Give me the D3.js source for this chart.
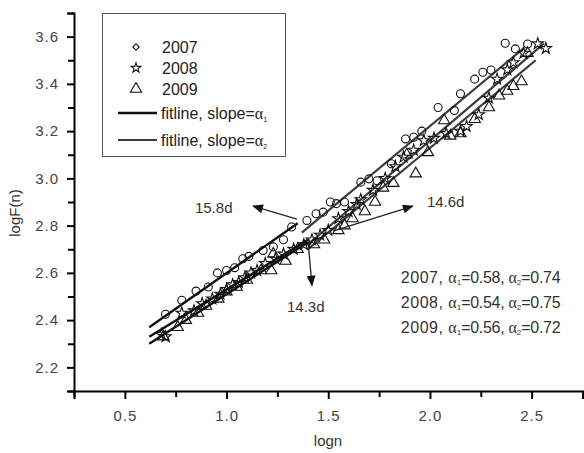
<!DOCTYPE html>
<html>
<head>
<meta charset="utf-8">
<script src="https://cdn.jsdelivr.net/npm/d3@7"></script>
<style>
  body { margin: 0; background: #fff; }
  svg text { font-family: "Liberation Sans", Arial, sans-serif; }
</style>
</head>
<body>
<svg id="chart" width="584" height="453"></svg>
<script>
// ---- data ----
var years = ['2007', '2008', '2009'];

var pts2007 = [
  [0.70, 2.425], [0.78, 2.484], [0.85, 2.523], [0.91, 2.54], [0.955, 2.60], [1.00, 2.61],
  [1.04, 2.622], [1.08, 2.66], [1.11, 2.67], [1.18, 2.695], [1.23, 2.71], [1.28, 2.74],
  [1.32, 2.794], [1.395, 2.822], [1.44, 2.85], [1.475, 2.857], [1.51, 2.90], [1.54, 2.893],
  [1.58, 2.90], [1.66, 2.984], [1.70, 2.998], [1.74, 2.99], [1.81, 3.062], [1.88, 3.167],
  [1.92, 3.174], [1.96, 3.20], [2.04, 3.30], [2.12, 3.287], [2.15, 3.358], [2.22, 3.42],
  [2.26, 3.449], [2.30, 3.459], [2.37, 3.572], [2.42, 3.548], [2.48, 3.569]
];

var pts2008 = [
  [0.68, 2.34], [0.70, 2.33], [0.78, 2.43], [0.84, 2.44], [0.88, 2.47], [0.93, 2.49],
  [0.97, 2.51], [1.00, 2.53], [1.03, 2.55], [1.06, 2.56], [1.09, 2.58], [1.12, 2.60],
  [1.15, 2.61], [1.19, 2.64], [1.24, 2.66], [1.28, 2.68], [1.33, 2.70], [1.38, 2.72],
  [1.42, 2.74], [1.46, 2.76], [1.50, 2.78], [1.55, 2.83], [1.60, 2.86], [1.64, 2.89],
  [1.66, 2.91], [1.72, 2.95], [1.78, 3.00], [1.83, 3.05], [1.87, 3.09], [1.92, 3.12],
  [1.97, 3.16], [2.02, 3.17], [2.08, 3.19], [2.15, 3.20], [2.18, 3.22], [2.24, 3.27],
  [2.29, 3.34], [2.33, 3.42], [2.38, 3.46], [2.41, 3.49], [2.46, 3.53], [2.53, 3.57],
  [2.57, 3.55]
];

var pts2009 = [
  [0.69, 2.33], [0.76, 2.37], [0.80, 2.40], [0.86, 2.43], [0.90, 2.46], [0.96, 2.49],
  [1.00, 2.52], [1.05, 2.54], [1.10, 2.57], [1.17, 2.61], [1.22, 2.61], [1.23, 2.68],
  [1.29, 2.65], [1.35, 2.70], [1.43, 2.72], [1.48, 2.74], [1.55, 2.78], [1.58, 2.80],
  [1.62, 2.83], [1.68, 2.86], [1.73, 2.90], [1.77, 2.96], [1.82, 2.98], [1.886, 3.10],
  [1.93, 3.02], [1.99, 3.11], [2.07, 3.245], [2.10, 3.18], [2.15, 3.19], [2.22, 3.25],
  [2.29, 3.30], [2.34, 3.35], [2.38, 3.37], [2.41, 3.39], [2.45, 3.41], [2.48, 3.53]
];

// fit lines: [x0, y0, x1, y1]
var fitAlpha1 = [
  [0.62, 2.37, 1.35, 2.81],
  [0.62, 2.33, 1.40, 2.74],
  [0.62, 2.30, 1.40, 2.73]
];
var fitAlpha2 = [
  [1.37, 2.77, 2.46, 3.55],
  [1.40, 2.72, 2.56, 3.57],
  [1.40, 2.70, 2.52, 3.50]
];

var alpha1 = ['0.58', '0.54', '0.56'];
var alpha2 = ['0.74', '0.75', '0.72'];

var xMajor = [0.5, 1.0, 1.5, 2.0, 2.5];
var xMinor = [0.25, 0.75, 1.25, 1.75, 2.25, 2.75];
var yMajor = [2.2, 2.4, 2.6, 2.8, 3.0, 3.2, 3.4, 3.6];
var yMinor = [2.1, 2.3, 2.5, 2.7, 2.9, 3.1, 3.3, 3.5, 3.7];

// arrows: label, from, to, label position (data units)
var arrows = [
  { label: '15.8d', from: [1.346, 2.828], to: [1.13, 2.883], at: [0.845, 2.853] },
  { label: '14.6d', from: [1.523, 2.777], to: [1.916, 2.883], at: [1.985, 2.879] },
  { label: '14.3d', from: [1.40, 2.739], to: [1.42, 2.546], at: [1.297, 2.434] }
];

// ---- drawing ----
var svg = d3.select('#chart');

var x = d3.scaleLinear().domain([0.25, 2.75]).range([74, 582.5]);
var y = d3.scaleLinear().domain([2.1, 3.7]).range([391, 13]);

svg.append('defs').append('marker')
  .attr('id', 'arrow')
  .attr('viewBox', '0 0 12 10')
  .attr('refX', 11).attr('refY', 5)
  .attr('markerWidth', 12).attr('markerHeight', 9)
  .attr('markerUnits', 'userSpaceOnUse')
  .attr('orient', 'auto')
  .append('path')
  .attr('d', 'M0,0 L12,5 L0,10 Z')
  .attr('fill', '#111');

// axes
function styleAxis(g) {
  g.select('.domain').attr('stroke', '#000').attr('stroke-width', 2);
  g.selectAll('.tick line').attr('stroke', '#000').attr('stroke-width', 2);
  g.selectAll('.tick text')
    .attr('fill', '#444')
    .style('font-size', '15px')
    .style('letter-spacing', '1px');
}

var gx = svg.append('g').attr('transform', 'translate(0,391)')
  .call(d3.axisBottom(x).tickValues(xMajor).tickFormat(d3.format('.1f')).tickSizeOuter(0).tickSize(8).tickPadding(11));
styleAxis(gx);
svg.append('g').attr('transform', 'translate(0,391)')
  .call(d3.axisBottom(x).tickValues(xMinor).tickFormat('').tickSizeOuter(0).tickSize(6))
  .call(function (g) {
    g.select('.domain').remove();
    g.selectAll('.tick line').attr('stroke', '#000').attr('stroke-width', 2);
  });

var gy = svg.append('g').attr('transform', 'translate(74,0)')
  .call(d3.axisLeft(y).tickValues(yMajor).tickFormat(d3.format('.1f')).tickSizeOuter(0).tickSize(7).tickPadding(8));
styleAxis(gy);
svg.append('g').attr('transform', 'translate(74,0)')
  .call(d3.axisLeft(y).tickValues(yMinor).tickFormat('').tickSizeOuter(0).tickSize(6))
  .call(function (g) {
    g.select('.domain').remove();
    g.selectAll('.tick line').attr('stroke', '#000').attr('stroke-width', 2);
  });

svg.append('text')
  .attr('x', 328).attr('y', 446)
  .attr('text-anchor', 'middle')
  .attr('fill', '#333')
  .style('font-size', '15px')
  .text('logn');

svg.append('text')
  .attr('transform', 'translate(20,213) rotate(-90)')
  .attr('text-anchor', 'middle')
  .attr('fill', '#333')
  .style('font-size', '15px')
  .text('logF(n)');

// fit lines
var fits = svg.append('g');
fits.selectAll('line.a1').data(fitAlpha1).enter().append('line')
  .attr('class', 'a1')
  .attr('x1', d => x(d[0])).attr('y1', d => y(d[1]))
  .attr('x2', d => x(d[2])).attr('y2', d => y(d[3]))
  .attr('stroke', '#111').attr('stroke-width', 2.4);
fits.selectAll('line.a2').data(fitAlpha2).enter().append('line')
  .attr('class', 'a2')
  .attr('x1', d => x(d[0])).attr('y1', d => y(d[1]))
  .attr('x2', d => x(d[2])).attr('y2', d => y(d[3]))
  .attr('stroke', '#3c3c3c').attr('stroke-width', 2.2);

// point symbols
var symCircle = d3.symbol().type(d3.symbolCircle).size(50);
var symStar = d3.symbol().type(d3.symbolStar).size(40);
var symTri = d3.symbol().type(d3.symbolTriangle).size(55);

function drawPoints(data, sym, cls) {
  svg.append('g').selectAll('path.' + cls).data(data).enter().append('path')
    .attr('class', cls)
    .attr('transform', d => 'translate(' + x(d[0]) + ',' + y(d[1]) + ')')
    .attr('d', sym)
    .attr('fill', 'none')
    .attr('stroke', '#111')
    .attr('stroke-width', 1.1);
}
drawPoints(pts2009, symTri, 'p2009');
drawPoints(pts2008, symStar, 'p2008');
drawPoints(pts2007, symCircle, 'p2007');

// arrows and labels
var ann = svg.append('g');
ann.selectAll('line').data(arrows).enter().append('line')
  .attr('x1', d => x(d.from[0])).attr('y1', d => y(d.from[1]))
  .attr('x2', d => x(d.to[0])).attr('y2', d => y(d.to[1]))
  .attr('stroke', '#222').attr('stroke-width', 1.3)
  .attr('marker-end', 'url(#arrow)');
ann.selectAll('text').data(arrows).enter().append('text')
  .attr('x', d => x(d.at[0])).attr('y', d => y(d.at[1]))
  .attr('fill', '#333')
  .style('font-size', '15px')
  .text(d => d.label);

// slope summary
var stats = svg.append('g');
years.forEach(function (yr, i) {
  var t = stats.append('text')
    .attr('x', x(1.857)).attr('y', y(2.557) + i * 25)
    .attr('fill', '#333')
    .style('font-size', '16px');
  t.append('tspan').style('letter-spacing', '0.5px').text(yr + ', ');
  t.append('tspan').style('font-family', '"Liberation Serif", serif').text('α');
  t.append('tspan').attr('baseline-shift', '-30%').style('font-size', '8px').text('1');
  t.append('tspan').style('letter-spacing', '-0.3px').text('=' + alpha1[i] + ', ');
  t.append('tspan').style('font-family', '"Liberation Serif", serif').text('α');
  t.append('tspan').attr('baseline-shift', '-30%').style('font-size', '8px').text('2');
  t.append('tspan').style('letter-spacing', '-0.3px').text('=' + alpha2[i]);
});

// legend
var leg = svg.append('g');
leg.append('rect')
  .attr('x', 102.5).attr('y', 13.5).attr('width', 183).attr('height', 143)
  .attr('fill', '#fff').attr('stroke', '#555').attr('stroke-width', 1);

var legSyms = [
  d3.symbol().type(d3.symbolSquare).size(20),
  d3.symbol().type(d3.symbolStar).size(30),
  d3.symbol().type(d3.symbolTriangle).size(55)
];
var legRot = [45, 0, 0];
var legRows = [47, 68, 89];
years.forEach(function (yr, i) {
  leg.append('path')
    .attr('transform', 'translate(136,' + legRows[i] + ') rotate(' + legRot[i] + ')')
    .attr('d', legSyms[i])
    .attr('fill', 'none').attr('stroke', '#111').attr('stroke-width', 1.1);
  leg.append('text')
    .attr('x', 162).attr('y', legRows[i] + 6)
    .attr('fill', '#222')
    .style('font-size', '16px')
    .text(yr);
});
var legLines = [
  { y: 113, sub: '1', color: '#111', w: 2.6 },
  { y: 140, sub: '2', color: '#3c3c3c', w: 1.8 }
];
legLines.forEach(function (l) {
  leg.append('line')
    .attr('x1', 118).attr('x2', 157).attr('y1', l.y).attr('y2', l.y)
    .attr('stroke', l.color).attr('stroke-width', l.w);
  var t = leg.append('text')
    .attr('x', 161).attr('y', l.y + 6)
    .attr('fill', '#222')
    .style('font-size', '16px');
  t.append('tspan').text('fitline, slope=');
  t.append('tspan').style('font-family', '"Liberation Serif", serif').text('α');
  t.append('tspan').attr('baseline-shift', '-40%').style('font-size', '7px').text(l.sub);
});
</script>
</body>
</html>
